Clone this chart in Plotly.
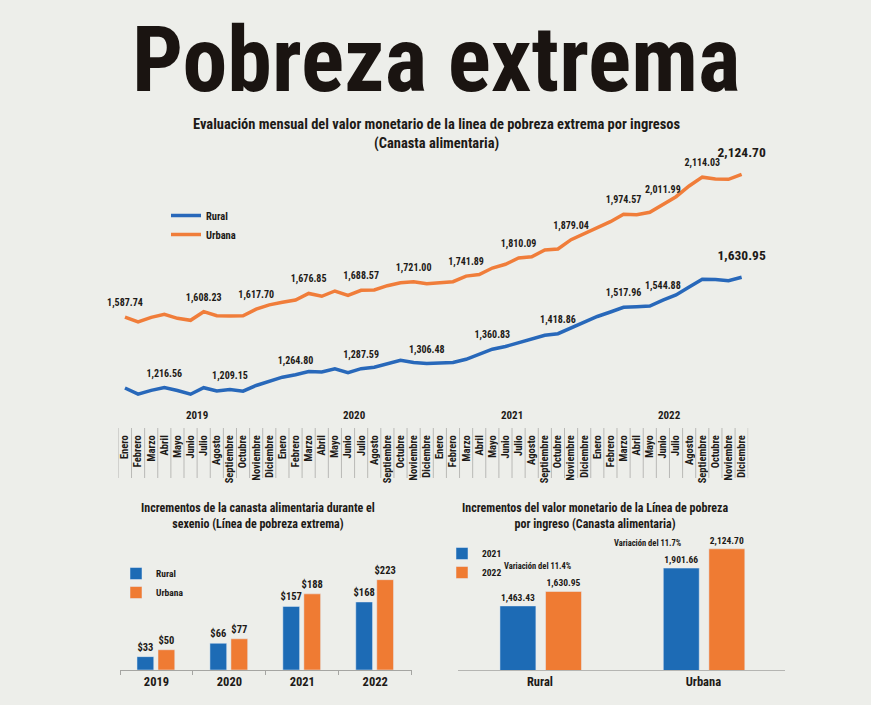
import plotly.graph_objects as go

W, H = 871, 705

# ---------------- data ----------------
MONTHS = ['Enero', 'Febrero', 'Marzo', 'Abril', 'Mayo', 'Junio', 'Julio', 'Agosto',
          'Septiembre', 'Octubre', 'Noviembre', 'Diciembre']
YEARS = ['2019', '2020', '2021', '2022']
month_labels = MONTHS * len(YEARS)

urbana = [1587.74, 1569.4, 1587.1, 1598.4, 1583.3, 1575.8, 1608.23, 1593.1, 1592.0, 1593.1, 1617.70, 1634.0,
          1643.5, 1652.1, 1676.85, 1666.1, 1686.0, 1669.8, 1688.57, 1689.7, 1705.9, 1717.2, 1721.00, 1713.5,
          1717.2, 1720.9, 1741.89, 1748.0, 1772.4, 1786.4, 1810.09, 1814.9, 1840.1, 1843.9, 1879.04, 1901.66,
          1925.5, 1946.5, 1974.57, 1972.8, 1981.8, 2011.99, 2040.5, 2080.7, 2114.03, 2107.0, 2105.9, 2124.70]
rural = [1214.8, 1191.5, 1205.8, 1216.56, 1205.4, 1191.5, 1215.9, 1203.5, 1209.15, 1202.7, 1224.2, 1240.5,
         1255.4, 1264.80, 1276.8, 1274.9, 1287.0, 1272.3, 1287.59, 1293.0, 1305.8, 1318.9, 1310.6, 1306.48,
         1308.8, 1310.6, 1322.7, 1342.6, 1360.83, 1370.8, 1385.1, 1401.6, 1412.9, 1418.86, 1440.3, 1463.43,
         1483.6, 1500.5, 1517.96, 1520.4, 1523.1, 1544.88, 1564.4, 1594.5, 1623.4, 1622.7, 1618.2, 1630.95]
urbana_label_idx = [0, 6, 10, 14, 18, 22, 26, 30, 34, 38, 41, 44, 47]
rural_label_idx = [3, 8, 13, 18, 23, 28, 33, 38, 41, 47]

inc_years = ['2019', '2020', '2021', '2022']
inc_rural = [33, 66, 157, 168]
inc_urbana = [50, 77, 188, 223]

zonas = ['Rural', 'Urbana']
lp_2021 = [1463.43, 1901.66]
lp_2022 = [1630.95, 2124.70]

# ---------------- style ----------------
FONT = "Roboto Condensed, Liberation Sans Narrow, Roboto, sans-serif"
INK = '#1d1a17'
BLUE_L = '#2868ba'
ORANGE_L = '#f07d3a'
BLUE = '#1d6bb5'
ORANGE = '#ef7b33'
BG = '#edeeea'


def fx(px):
    return px / W


def fy(py):
    return 1 - py / H


fig = go.Figure()
x_idx = list(range(len(month_labels)))

# lines
fig.add_trace(go.Scatter(x=x_idx, y=rural, mode='lines', name='Rural',
                         line=dict(color=BLUE_L, width=3.5), xaxis='x', yaxis='y2',
                         legend='legend', hoverinfo='skip'))
fig.add_trace(go.Scatter(x=x_idx, y=urbana, mode='lines', name='Urbana',
                         line=dict(color=ORANGE_L, width=3.5), xaxis='x', yaxis='y',
                         legend='legend', hoverinfo='skip'))


def label_trace(values, idx, axis):
    last = len(values) - 1
    return go.Scatter(
        x=idx, y=[values[i] for i in idx], mode='markers+text',
        text=[f"{values[i]:,.2f}" for i in idx], textposition='top center',
        textfont=dict(family=FONT, color=INK, weight='bold',
                      size=[13.5 if i == last else 10 for i in idx]),
        marker=dict(size=[20 if i == last else 12 for i in idx], color='rgba(0,0,0,0)',
                    opacity=0, line=dict(width=0)),
        xaxis='x', yaxis=axis, showlegend=False, hoverinfo='skip', cliponaxis=False)


fig.add_trace(label_trace(urbana, urbana_label_idx, 'y'))
fig.add_trace(label_trace(rural, rural_label_idx, 'y2'))

# bars: increments
fig.add_trace(go.Bar(x=inc_years, y=inc_rural, name='Rural', marker_color=BLUE,
                     width=0.23, offset=-0.267, xaxis='x2', yaxis='y3', legend='legend2',
                     text=[f"${v}" for v in inc_rural], textposition='outside', constraintext='none',
                     textfont=dict(family=FONT, size=10.5, color=INK, weight='bold'),
                     cliponaxis=False, hoverinfo='skip'))
fig.add_trace(go.Bar(x=inc_years, y=inc_urbana, name='Urbana', marker_color=ORANGE,
                     width=0.23, offset=0.021, xaxis='x2', yaxis='y3', legend='legend2',
                     text=[f"${v}" for v in inc_urbana], textposition='outside', constraintext='none',
                     textfont=dict(family=FONT, size=10.5, color=INK, weight='bold'),
                     cliponaxis=False, hoverinfo='skip'))

# bars: 2021 vs 2022
fig.add_trace(go.Bar(x=zonas, y=lp_2021, name='2021', marker_color=BLUE,
                     width=0.22, offset=-0.245, xaxis='x3', yaxis='y4', legend='legend3',
                     text=[f"{v:,.2f}" for v in lp_2021], textposition='outside', constraintext='none',
                     textfont=dict(family=FONT, size=9.5, color=INK, weight='bold'),
                     cliponaxis=False, hoverinfo='skip'))
fig.add_trace(go.Bar(x=zonas, y=lp_2022, name='2022', marker_color=ORANGE,
                     width=0.22, offset=0.034, xaxis='x3', yaxis='y4', legend='legend3',
                     text=[f"{v:,.2f}" for v in lp_2022], textposition='outside', constraintext='none',
                     textfont=dict(family=FONT, size=9.5, color=INK, weight='bold'),
                     cliponaxis=False, hoverinfo='skip'))

# ---------------- annotations ----------------
ann = []
ann.append(dict(text='Pobreza extrema', x=fx(436), y=fy(60), xref='paper', yref='paper',
                showarrow=False, xanchor='center', yanchor='middle',
                font=dict(family=FONT, size=90, color='#1a1411', weight='bold')))
ann.append(dict(text='Evaluación mensual del valor monetario de la linea de pobreza extrema por ingresos'
                     '<br>(Canasta alimentaria)',
                x=fx(437), y=fy(133.5), xref='paper', yref='paper', showarrow=False,
                xanchor='center', yanchor='middle',
                font=dict(family=FONT, size=14.5, color=INK, weight='bold')))
for k, yr in enumerate(YEARS):
    ann.append(dict(text=yr, x=5.5 + 12 * k, y=fy(415), xref='x', yref='paper', showarrow=False,
                    xanchor='center', yanchor='middle',
                    font=dict(family=FONT, size=11, color=INK, weight='bold')))
ann.append(dict(text='Incrementos de la canasta alimentaria durante el<br>sexenio (Línea de pobreza extrema)',
                x=fx(258), y=fy(516), xref='paper', yref='paper', showarrow=False,
                xanchor='center', yanchor='middle',
                font=dict(family=FONT, size=12, color=INK, weight='bold')))
ann.append(dict(text='Incrementos del valor monetario de la Línea de pobreza<br>por ingreso (Canasta alimentaria)',
                x=fx(595), y=fy(516), xref='paper', yref='paper', showarrow=False,
                xanchor='center', yanchor='middle',
                font=dict(family=FONT, size=12, color=INK, weight='bold')))
var_pos = [(538, 566), (648, 543)]
for (px, py), a, b in zip(var_pos, lp_2021, lp_2022):
    ann.append(dict(text=f"Variación del {(b / a - 1) * 100:.1f}%", x=fx(px), y=fy(py),
                    xref='paper', yref='paper', showarrow=False, xanchor='center', yanchor='middle',
                    font=dict(family=FONT, size=8.5, color=INK, weight='bold')))

# month separators
shapes = []
for k in range(len(month_labels) + 1):
    shapes.append(dict(type='line', xref='x', yref='paper', x0=k - 0.5, x1=k - 0.5,
                       y0=fy(478), y1=fy(428), line=dict(color='#b9b9b6', width=1)))

fig.update_layout(
    width=W, height=H, margin=dict(l=0, r=0, t=0, b=0),
    paper_bgcolor=BG, plot_bgcolor='rgba(0,0,0,0)',
    font=dict(family=FONT, color=INK),
    showlegend=True, barmode='group',
    annotations=ann, shapes=shapes,
    xaxis=dict(domain=[fx(118.4), fx(748.2)], range=[-0.5, 47.5], anchor='y',
               tickmode='array', tickvals=x_idx, ticktext=month_labels, tickangle=-90,
               ticks='outside', ticklen=30, tickcolor='rgba(0,0,0,0)',
               tickfont=dict(family=FONT, size=10.5, color=INK, weight='bold'),
               showgrid=False, zeroline=False, showline=False, fixedrange=True),
    yaxis=dict(domain=[fy(400), fy(150)], range=[1276.2, 2216.1], visible=False, anchor='x'),
    yaxis2=dict(range=[1169.7, 2109.5], overlaying='y', visible=False, anchor='x'),
    xaxis2=dict(domain=[fx(120), fx(411.7)], range=[-0.5, 3.5], anchor='y3', type='category',
                showline=True, linecolor='#a5a5a2', linewidth=1, ticks='outside', tickson='boundaries',
                ticklen=4, tickcolor='#a5a5a2', showgrid=False, zeroline=False,
                tickfont=dict(family=FONT, size=12.5, color=INK, weight='bold')),
    yaxis3=dict(domain=[fy(670), fy(560)], range=[0, 271.6], visible=False, anchor='x2'),
    xaxis3=dict(domain=[fx(458.3), fx(785)], range=[-0.5, 1.5], anchor='y4', type='category',
                showline=True, linecolor='#b5b5b2', linewidth=1, ticks='', showgrid=False,
                zeroline=False, tickfont=dict(family=FONT, size=12.5, color=INK, weight='bold')),
    yaxis4=dict(domain=[fy(670), fy(540)], range=[721, 2227], visible=False, anchor='x3'),
    legend=dict(x=fx(166), y=fy(201), xanchor='left', yanchor='top', bgcolor='rgba(0,0,0,0)',
                font=dict(family=FONT, size=10.5, color=INK, weight='bold')),
    legend2=dict(x=fx(116), y=fy(559), xanchor='left', yanchor='top', bgcolor='rgba(0,0,0,0)',
                 font=dict(family=FONT, size=9.5, color=INK, weight='bold')),
    legend3=dict(x=fx(442), y=fy(539), xanchor='left', yanchor='top', bgcolor='rgba(0,0,0,0)',
                 font=dict(family=FONT, size=9.5, color=INK, weight='bold')),
)

fig.write_html("out.html", config={'displayModeBar': False},
               post_script="document.body.style.margin='0';")
